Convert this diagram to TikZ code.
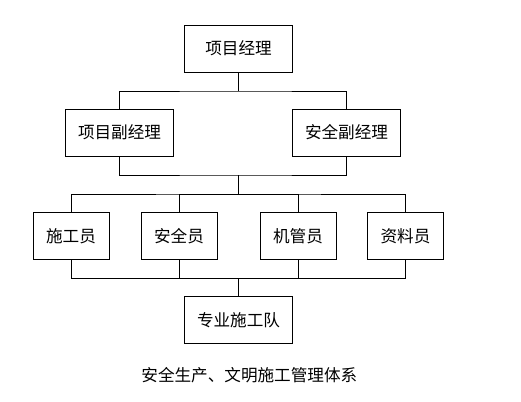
\documentclass[tikz,border=0pt]{standalone}
\usepackage{fontspec}
\newfontfamily\cjk{Noto Sans CJK SC}
\usetikzlibrary{positioning}

\begin{document}
\begin{tikzpicture}[x=1pt, y=-1pt, line width=0.9pt,
    box/.style={draw, line width=0.9pt, minimum width=108pt, minimum height=47pt, inner sep=0pt, font=\cjk\fontsize{16.6}{17}\selectfont},
    smallbox/.style={box, minimum width=76pt}]

            \useasboundingbox (0,0) rectangle (521,401);

            % Define the levels
            \def\ya{48.5}
            \def\yb{132.5}
            \def\yc{235.8}
            \def\yd{319.8}

            % top and second level
            \node (pm) [box] at (238.5, \ya) {项目经理};
            \node (vpm) [box] at (119.5, \yb) {项目副经理};
            \node (vsafe) [box] at (346.5, \yb) {安全副经理};

            % staff
            \node (worker) [smallbox] at (71, \yc) {施工员};
            \node (safety) [smallbox] at (179, \yc) {安全员};
            \node (machine) [smallbox] at (298, \yc) {机管员};
            \node (docs) [smallbox] at (405.5, \yc) {资料员};

            \node (team) [box] at (238.5, \yd) {专业施工队};

            % junctions of the connectors
            \coordinate (ja) at (238.5, 91);
            \coordinate (jb) at (238.5, 175);
            \coordinate (jc) at (238.5, 194);
            \coordinate (jd) at (238.5, 278.3);

            \draw (pm) -- (ja);
            \draw (vpm.north) |- (ja) -| (vsafe.north);
            \draw (vpm.south) |- (jb) -| (vsafe.south);
            \draw (jb) -- (jc);
            \draw (worker.north) |- (jc) -| (docs.north);
            \draw (safety.north) |- (jc);
            \draw (machine.north) |- (jc);
            \draw (worker.south) |- (jd) -| (docs.south);
            \draw (safety.south) |- (jd);
            \draw (machine.south) |- (jd);
            \draw (jd) -- (team);

            \node (caption) at (249.3, 375) [font=\cjk\fontsize{16.6}{17}\selectfont] {安全生产、文明施工管理体系};

        \end{tikzpicture}
\end{document}
